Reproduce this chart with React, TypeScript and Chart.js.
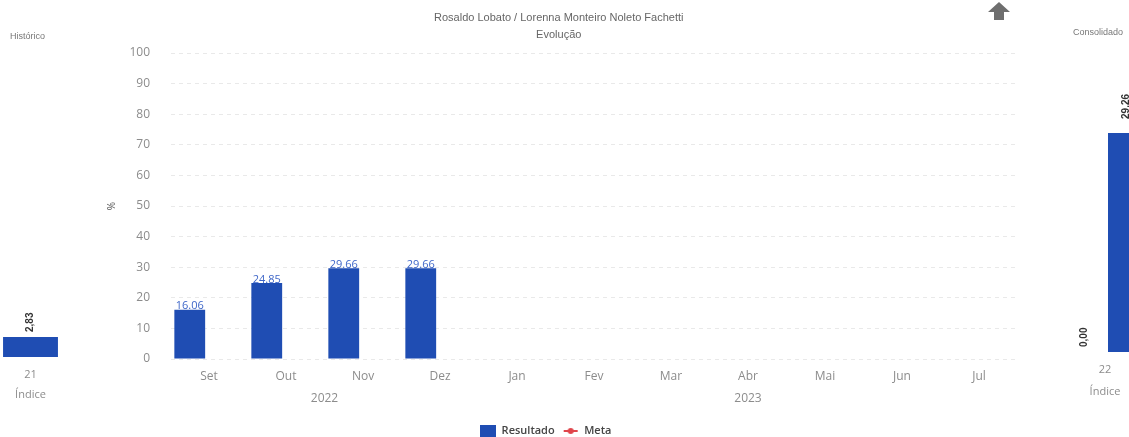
import React, { useEffect, useRef } from 'react';
import { Chart, registerables } from 'chart.js';

Chart.register(...registerables);

// ---------- data ----------
const monthLabels = ['Set', 'Out', 'Nov', 'Dez', 'Jan', 'Fev', 'Mar', 'Abr', 'Mai', 'Jun', 'Jul'];
const yearGroups = [
  { label: '2022', from: 0, to: 3 },
  { label: '2023', from: 4, to: 10 },
];
const resultadoValues: (number | null)[] = [16.06, 24.85, 29.66, 29.66, null, null, null, null, null, null, null];
const metaValues: (number | null)[] = [null, null, null, null, null, null, null, null, null, null, null];
const spacerValues: (number | null)[] = [null, null, null, null, null, null, null, null, null, null, null];
const yMin = 0;
const yMax = 100;
const yStep = 10;

const titleText = 'Rosaldo Lobato / Lorenna Monteiro Noleto Fachetti';
const subtitleText = 'Evolução';
const yAxisTitle = '%';
const smallAxisTitle = 'Índice';

const historicoLabels = ['21'];
const historicoValues = [2.83];

const consolidadoLabels = ['22'];
const consolidadoMeta = [0];
const consolidadoResultado = [29.26];

// ---------- styles ----------
const BLUE = '#1f4db3';
const RED = '#e0454b';
const FONT = '"Open Sans", "Noto Sans", sans-serif';
const TITLE_FONT = '"Liberation Sans", Arial, sans-serif';
const TICK_COLOR = '#8c8c8c';

function makeIcon(kind: 'bar' | 'line') {
  const c = document.createElement('canvas');
  c.width = 16;
  c.height = 12;
  const g = c.getContext('2d')!;
  if (kind === 'bar') {
    g.fillStyle = BLUE;
    g.fillRect(0, 0, 16, 12);
  } else {
    g.strokeStyle = RED;
    g.lineWidth = 2;
    g.beginPath();
    g.moveTo(1, 6);
    g.lineTo(15, 6);
    g.stroke();
    g.fillStyle = RED;
    g.beginPath();
    g.arc(8, 6, 3, 0, Math.PI * 2);
    g.fill();
  }
  return c;
}

const barValuePlugin = {
  id: 'barValues',
  afterDatasetsDraw(chart: any) {
    const { ctx } = chart;
    const meta = chart.getDatasetMeta(0);
    const data = chart.data.datasets[0].data;
    ctx.save();
    ctx.font = `11px ${FONT}`;
    ctx.fillStyle = '#3e66c8';
    ctx.textAlign = 'center';
    ctx.textBaseline = 'bottom';
    meta.data.forEach((bar: any, i: number) => {
      const v = data[i];
      if (v == null) return;
      ctx.fillText(Number(v).toFixed(2), bar.x, bar.y + 2);
    });
    ctx.restore();
  },
};

const yearPlugin = {
  id: 'years',
  afterDraw(chart: any) {
    const { ctx } = chart;
    const xs = chart.scales.x;
    ctx.save();
    ctx.font = `12px ${FONT}`;
    ctx.fillStyle = TICK_COLOR;
    ctx.textAlign = 'center';
    ctx.textBaseline = 'middle';
    yearGroups.forEach((g) => {
      const cx = (xs.getPixelForValue(g.from) + xs.getPixelForValue(g.to)) / 2;
      ctx.fillText(g.label, cx, xs.top + 40);
    });
    ctx.restore();
  },
};

const legendShiftPlugin = {
  id: 'legendShift',
  afterLayout(chart: any) {
    const l = chart.legend;
    if (!l) return;
    const dx = -13;
    const dy = 9.5;
    l.left += dx;
    l.right += dx;
    l.top += dy;
    l.bottom += dy;
  },
};

const rotatedValuePlugin = {
  id: 'rotatedValues',
  afterDatasetsDraw(chart: any) {
    const { ctx } = chart;
    chart.data.datasets.forEach((ds: any, di: number) => {
      const meta = chart.getDatasetMeta(di);
      meta.data.forEach((bar: any, i: number) => {
        const v = ds.data[i];
        if (v == null) return;
        ctx.save();
        ctx.translate(bar.x, bar.y - (v > 10 ? 14 : 5));
        ctx.rotate(-Math.PI / 2);
        ctx.font = `bold 10px ${TITLE_FONT}`;
        ctx.fillStyle = '#333';
        ctx.textAlign = 'left';
        ctx.textBaseline = 'middle';
        ctx.fillText(Number(v).toFixed(2).replace('.', ','), 0, 0);
        ctx.restore();
      });
    });
  },
};

function smallChartConfig(labels: string[], datasets: any[], o: { top: number; axisH: number; tickPad: number; titlePad: number }) {
  return {
    type: 'bar' as const,
    data: { labels, datasets },
    options: {
      responsive: false,
      animation: false as const,
      layout: { padding: { left: 0, right: 0, top: o.top, bottom: 0 } },
      plugins: { legend: { display: false }, tooltip: { enabled: false }, title: { display: false } },
      scales: {
        x: {
          grid: { display: false, drawTicks: false },
          border: { display: false },
          ticks: { font: { family: FONT, size: 11 }, color: TICK_COLOR, padding: o.tickPad },
          title: {
            display: true,
            text: smallAxisTitle,
            font: { family: FONT, size: 11 },
            color: TICK_COLOR,
            padding: { top: 0, bottom: o.titlePad },
          },
          afterFit: (s: any) => {
            s.height = o.axisH;
          },
        },
        y: { display: false, min: 0, max: 40 },
      },
    },
    plugins: [rotatedValuePlugin],
  };
}

export default function App() {
  const mainRef = useRef<HTMLCanvasElement>(null);
  const leftRef = useRef<HTMLCanvasElement>(null);
  const rightRef = useRef<HTMLCanvasElement>(null);

  useEffect(() => {
    const icons: Record<string, HTMLCanvasElement> = {
      Resultado: makeIcon('bar'),
      Meta: makeIcon('line'),
    };

    const main = new Chart(mainRef.current!, {
      type: 'bar',
      data: {
        labels: monthLabels,
        datasets: [
          {
            label: 'Resultado',
            data: resultadoValues,
            backgroundColor: BLUE,
            borderWidth: 0,
            categoryPercentage: 1,
            barPercentage: 0.8,
            order: 2,
          },
          {
            label: '_spacer',
            data: spacerValues,
            backgroundColor: BLUE,
            borderWidth: 0,
            categoryPercentage: 1,
            barPercentage: 0.8,
            order: 3,
          },
          {
            type: 'line',
            label: 'Meta',
            data: metaValues,
            borderColor: RED,
            backgroundColor: RED,
            borderWidth: 2,
            pointRadius: 3,
            order: 1,
          } as any,
        ],
      },
      options: {
        responsive: false,
        animation: false,
        layout: { padding: { left: 100, right: 111.5, top: 0, bottom: 0 } },
        plugins: {
          title: {
            display: true,
            text: titleText,
            font: { family: TITLE_FONT, size: 11, weight: 'normal' },
            color: '#666',
            padding: { top: 10.9, bottom: 0 },
          },
          subtitle: {
            display: true,
            text: subtitleText,
            font: { family: TITLE_FONT, size: 11, weight: 'normal' },
            color: '#666',
            padding: { top: 4.3, bottom: 11.4 },
          },
          tooltip: { enabled: false },
          legend: {
            display: true,
            position: 'bottom',
            labels: {
              usePointStyle: true,
              pointStyleWidth: 16,
              boxHeight: 12,
              padding: 8,
              color: '#444',
              font: { family: FONT, size: 11, weight: '600' as any },
              filter: (item: any) => item.text !== '_spacer',
              sort: (a: any, b: any) => a.datasetIndex - b.datasetIndex,
              generateLabels: (chart: any) => {
                const items = (Chart.defaults.plugins.legend.labels as any).generateLabels(chart);
                return items.map((it: any) => ({ ...it, pointStyle: icons[it.text] ?? it.pointStyle }));
              },
            },
          },
        },
        scales: {
          x: {
            grid: { display: false, drawTicks: false },
            border: { display: false },
            ticks: { font: { family: FONT, size: 12 }, color: TICK_COLOR, padding: 10 },
            afterFit: (s: any) => {
              s.height = 49;
            },
          },
          y: {
            min: yMin,
            max: yMax,
            ticks: { stepSize: yStep, font: { family: FONT, size: 12 }, color: TICK_COLOR, padding: 20.5 },
            grid: { color: '#e9e9e9', drawTicks: false },
            border: { display: false, dash: [4, 4] },
            title: {
              display: true,
              text: yAxisTitle,
              font: { family: FONT, size: 10 },
              color: '#555',
              padding: { top: 6, bottom: 0 },
            },
            afterFit: (s: any) => {
              s.width = 70.5;
            },
          },
        },
      },
      plugins: [barValuePlugin, yearPlugin, legendShiftPlugin],
    });

    const left = new Chart(
      leftRef.current!,
      smallChartConfig(
        historicoLabels,
        [
          {
            label: 'Resultado',
            data: historicoValues,
            backgroundColor: BLUE,
            borderWidth: 0,
            categoryPercentage: 1,
            barPercentage: 0.9,
          },
        ],
        { top: 74.3, axisH: 80, tickPad: 11.4, titlePad: 35.4 }
      ) as any
    );

    const right = new Chart(
      rightRef.current!,
      smallChartConfig(
        consolidadoLabels,
        [
          {
            label: 'Meta',
            data: consolidadoMeta,
            backgroundColor: BLUE,
            borderWidth: 0,
            categoryPercentage: 0.894,
            barPercentage: 0.857,
          },
          {
            label: 'Resultado',
            data: consolidadoResultado,
            backgroundColor: BLUE,
            borderWidth: 0,
            categoryPercentage: 0.894,
            barPercentage: 0.857,
          },
        ],
        { top: 52.6, axisH: 85, tickPad: 11.4, titlePad: 38.4 }
      ) as any
    );

    return () => {
      main.destroy();
      left.destroy();
      right.destroy();
    };
  }, []);

  const smallText: React.CSSProperties = {
    position: 'absolute',
    fontFamily: TITLE_FONT,
    fontSize: 9,
    lineHeight: 1,
    color: '#777',
    whiteSpace: 'nowrap',
  };

  return (
    <div
      style={{
        position: 'fixed',
        left: 0,
        top: 0,
        width: 1129,
        height: 437,
        overflow: 'hidden',
        background: '#fff',
      }}
    >
      <canvas ref={mainRef} width={1129} height={437} style={{ position: 'absolute', left: 0, top: 0, display: 'block' }} />
      <canvas ref={leftRef} width={61} height={437} style={{ position: 'absolute', left: 0, top: 0, display: 'block' }} />
      <canvas ref={rightRef} width={94} height={437} style={{ position: 'absolute', left: 1058, top: 0, display: 'block' }} />
      <div style={{ ...smallText, left: 10, top: 31.5 }}>Histórico</div>
      <div style={{ ...smallText, left: 1073, top: 28 }}>Consolidado</div>
      <svg
        width={24}
        height={20}
        viewBox="0 0 24 20"
        style={{ position: 'absolute', left: 987, top: 2 }}
      >
        <polygon points="1,10 12,0 23,10 17,10 17,18 7,18 7,10" fill="#6e6e6e" />
      </svg>
    </div>
  );
}
